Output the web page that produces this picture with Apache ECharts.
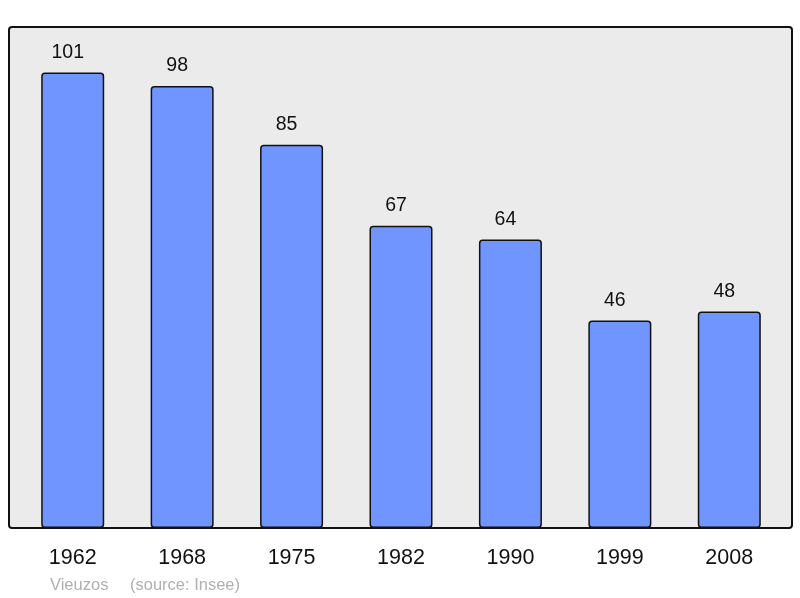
<!DOCTYPE html>
<html><head><meta charset="utf-8">
<script src="https://cdn.jsdelivr.net/npm/echarts@6/dist/echarts.min.js"></script>
<style>html,body{margin:0;padding:0;background:#fff}#c{width:800px;height:598px}</style>
</head><body><div id="c"></div>
<script>
const years = ['1962','1968','1975','1982','1990','1999','2008'];
const population = [101, 98, 85, 67, 64, 46, 48];
const footerName = 'Vieuzos';
const footerSource = '(source: Insee)';

const chart = echarts.init(document.getElementById('c'), null, {renderer:'canvas'});
chart.setOption({
  animation: false,
  backgroundColor: '#ffffff',
  textStyle: {fontFamily: 'Liberation Sans, Arial, sans-serif'},
  grid: {left: 18, right: 16, top: 27, bottom: 70},
  graphic: [
    {type:'rect', z:-10, shape:{x:9, y:27, width:783, height:501, r:3},
     style:{fill:'#ebebeb', stroke:'#111', lineWidth:2}},
    {type:'text', left:50, top:577, style:{text: footerName, fill:'#b0b0b0', font:'16.5px Liberation Sans, Arial, sans-serif'}},
    {type:'text', left:130, top:577, style:{text: footerSource, fill:'#b0b0b0', font:'16.5px Liberation Sans, Arial, sans-serif'}}
  ],
  xAxis: {
    type:'category', data: years, boundaryGap: true,
    axisLine:{show:false}, axisTick:{show:false},
    axisLabel:{color:'#111', fontSize:21.5, margin:19, fontFamily:'Liberation Sans, Arial, sans-serif'}
  },
  yAxis: {type:'value', min:0, max:111.1, show:false, splitLine:{show:false}},
  series: [{
    type:'bar', data: population, barWidth: 63,
    itemStyle:{color:'#7095ff', borderColor:'#111', borderWidth:1.5, borderRadius:3},
    label:{show:true, position:'top', distance:10, offset:[-5,0], color:'#111', fontSize:19.5,
      fontFamily:'Liberation Sans, Arial, sans-serif'}
  }]
});
</script></body></html>
